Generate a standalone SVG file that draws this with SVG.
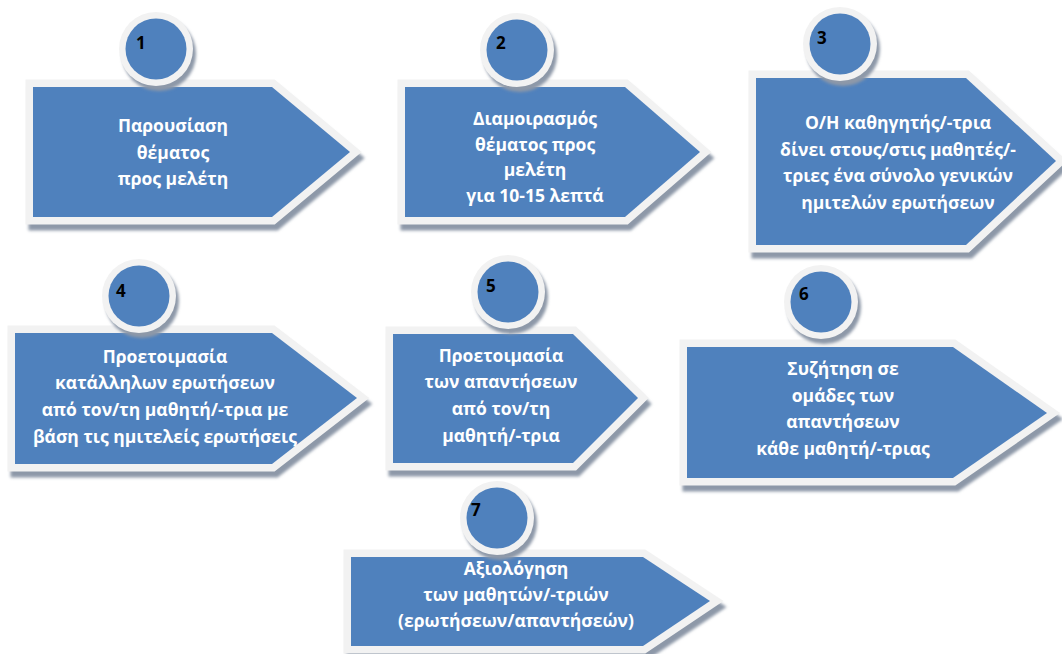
<svg xmlns="http://www.w3.org/2000/svg" xmlns:xlink="http://www.w3.org/1999/xlink" width="1062" height="654" viewBox="0 0 1062 654">
<style>
.sh{fill:#8d98a8;stroke:#8d98a8;stroke-width:15;stroke-linejoin:miter;stroke-miterlimit:10;filter:url(#blur)}
.bd{fill:#f2f2f2;stroke:#f2f2f2;stroke-width:15;stroke-linejoin:miter;stroke-miterlimit:10}
.fl{fill:#4f81bd;stroke:none}
.csh{fill:#8d98a8;filter:url(#blur)}
.cbd{fill:#f2f2f2}
.cfl{fill:#4f81bd}
.t{font-family:"Open Sans","Liberation Sans",Arial,sans-serif;font-weight:bold;font-size:17.5px;fill:#ffffff;text-anchor:middle}
.n{font-family:"Open Sans","Liberation Sans",Arial,sans-serif;font-weight:bold;font-size:17px;fill:#000000}
</style>
<defs>
<filter id="blur" x="-20%" y="-20%" width="140%" height="140%"><feGaussianBlur stdDeviation="1.5"/></filter>
<polygon id="a1" points="33,87 272,87 350,152 272,217 33,217"/>
<polygon id="a2" points="405,87 625,87 700,152 625,217 405,217"/>
<polygon id="a3" points="756,78 966,78 1056,161 966,245 756,245"/>
<polygon id="a4" points="15,333 272,333 357,398 272,464 15,464"/>
<polygon id="a5" points="393,334 573,334 638,398 573,463 393,463"/>
<polygon id="a6" points="687,347 953,347 1047,413 953,478 687,478"/>
<polygon id="a7" points="351,557 643,557 710,601 643,646 351,646"/>
</defs>
<rect width="1062" height="654" fill="#ffffff"/>
<g id="connectors"/>
<g id="node1">
<use xlink:href="#a1" class="sh" transform="translate(3,6)"/>
<use xlink:href="#a1" class="bd"/>
<use xlink:href="#a1" class="fl"/>
<circle class="csh" cx="159" cy="54" r="37"/>
<circle class="cbd" cx="156" cy="49" r="37"/>
<circle class="cfl" cx="156" cy="49" r="30.5"/>
<text class="n" x="136" y="49">1</text>
<text class="t" x="173" y="132">Παρουσίαση</text>
<text class="t" x="173" y="159">θέματος</text>
<text class="t" x="173" y="185">προς μελέτη</text>
</g>
<g id="node2">
<use xlink:href="#a2" class="sh" transform="translate(3,6)"/>
<use xlink:href="#a2" class="bd"/>
<use xlink:href="#a2" class="fl"/>
<circle class="csh" cx="520" cy="55" r="37"/>
<circle class="cbd" cx="517" cy="50" r="37"/>
<circle class="cfl" cx="517" cy="50" r="30.5"/>
<text class="n" x="496" y="49">2</text>
<text class="t" x="535" y="125">Διαμοιρασμός</text>
<text class="t" x="535" y="150.5">θέματος προς</text>
<text class="t" x="535" y="176">μελέτη</text>
<text class="t" x="535" y="201.5">για 10-15 λεπτά</text>
</g>
<g id="node3">
<use xlink:href="#a3" class="sh" transform="translate(3,6)"/>
<use xlink:href="#a3" class="bd"/>
<use xlink:href="#a3" class="fl"/>
<circle class="csh" cx="843" cy="49" r="37"/>
<circle class="cbd" cx="840" cy="44" r="37"/>
<circle class="cfl" cx="840" cy="44" r="30.5"/>
<text class="n" x="817" y="44">3</text>
<text class="t" x="898" y="129">Ο/Η καθηγητής/-τρια</text>
<text class="t" x="898" y="156">δίνει στους/στις μαθητές/-</text>
<text class="t" x="898" y="182">τριες ένα σύνολο γενικών</text>
<text class="t" x="898" y="209">ημιτελών ερωτήσεων</text>
</g>
<g id="node4">
<use xlink:href="#a4" class="sh" transform="translate(3,6)"/>
<use xlink:href="#a4" class="bd"/>
<use xlink:href="#a4" class="fl"/>
<circle class="csh" cx="142" cy="301" r="37"/>
<circle class="cbd" cx="139" cy="296" r="37"/>
<circle class="cfl" cx="139" cy="296" r="30.5"/>
<text class="n" x="116" y="297">4</text>
<text class="t" x="165" y="363">Προετοιμασία</text>
<text class="t" x="165" y="389">κατάλληλων ερωτήσεων</text>
<text class="t" x="165" y="416">από τον/τη μαθητή/-τρια με</text>
<text class="t" x="165" y="443">βάση τις ημιτελείς ερωτήσεις</text>
</g>
<g id="node5">
<use xlink:href="#a5" class="sh" transform="translate(3,6)"/>
<use xlink:href="#a5" class="bd"/>
<use xlink:href="#a5" class="fl"/>
<circle class="csh" cx="511" cy="297" r="37"/>
<circle class="cbd" cx="508" cy="292" r="37"/>
<circle class="cfl" cx="508" cy="292" r="30.5"/>
<text class="n" x="486" y="292">5</text>
<text class="t" x="501" y="362">Προετοιμασία</text>
<text class="t" x="501" y="388">των απαντήσεων</text>
<text class="t" x="501" y="415">από τον/τη</text>
<text class="t" x="501" y="442">μαθητή/-τρια</text>
</g>
<g id="node6">
<use xlink:href="#a6" class="sh" transform="translate(3,6)"/>
<use xlink:href="#a6" class="bd"/>
<use xlink:href="#a6" class="fl"/>
<circle class="csh" cx="824" cy="307" r="37"/>
<circle class="cbd" cx="821" cy="302" r="37"/>
<circle class="cfl" cx="821" cy="302" r="30.5"/>
<text class="n" x="799" y="300">6</text>
<text class="t" x="843" y="375">Συζήτηση σε</text>
<text class="t" x="843" y="402">ομάδες των</text>
<text class="t" x="843" y="428">απαντήσεων</text>
<text class="t" x="843" y="455">κάθε μαθητή/-τριας</text>
</g>
<g id="node7">
<use xlink:href="#a7" class="sh" transform="translate(3,6)"/>
<use xlink:href="#a7" class="bd"/>
<use xlink:href="#a7" class="fl"/>
<circle class="csh" cx="500" cy="523" r="37"/>
<circle class="cbd" cx="497" cy="518" r="37"/>
<circle class="cfl" cx="497" cy="518" r="30.5"/>
<text class="n" x="471" y="516">7</text>
<text class="t" x="516" y="575">Αξιολόγηση</text>
<text class="t" x="516" y="601">των μαθητών/-τριών</text>
<text class="t" x="516" y="627">(ερωτήσεων/απαντήσεών)</text>
</g>
</svg>
